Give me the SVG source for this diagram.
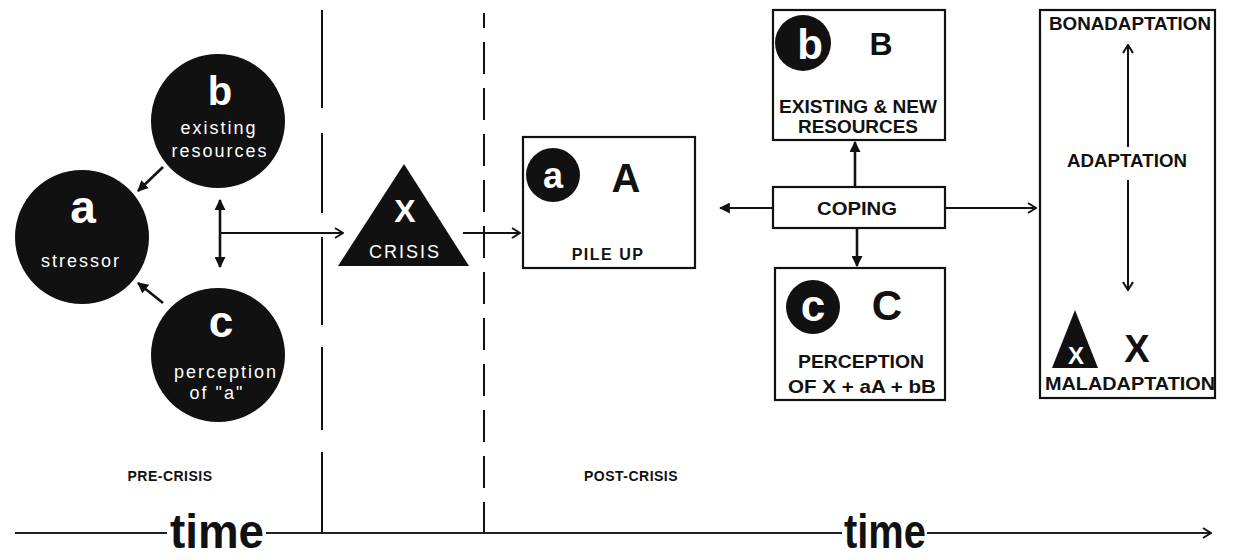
<svg xmlns="http://www.w3.org/2000/svg" width="1239" height="560" viewBox="0 0 1239 560">
<style>
.dk{fill:#111}
.box{fill:#fff;stroke:#111;stroke-width:2.2}
.b{font-family:"Liberation Sans",Arial,Helvetica,sans-serif;font-weight:bold;fill:#111;text-anchor:middle}
.w{fill:#fff}
.s{font-family:"Liberation Sans",Arial,Helvetica,sans-serif;font-size:18px;fill:#fff;text-anchor:middle;letter-spacing:2px}
.conn{stroke:#111;stroke-width:2.6;fill:none}
.thin{stroke:#111;stroke-width:2;fill:none}
.axis{stroke:#222;stroke-width:1.8;fill:none}
</style>
<defs>
<marker id="solid" viewBox="0 0 10 10" refX="9" refY="5" markerWidth="11" markerHeight="11" markerUnits="userSpaceOnUse" orient="auto-start-reverse"><path d="M0,0 L10,5 L0,10 z" fill="#111"/></marker>
<marker id="open" viewBox="0 0 10 12" refX="9" refY="6" markerWidth="10" markerHeight="12" markerUnits="userSpaceOnUse" orient="auto-start-reverse"><path d="M1,1 L9,6 L1,11" fill="none" stroke="#111" stroke-width="2"/></marker>
</defs>
<rect width="1239" height="560" fill="#fff"/>

<g id="timeline">
<path class="thin" d="M322,10 V108 M322,133 V213 M322,237 V325 M322,347 V430 M322,452 V533"/>
<line class="thin" x1="484" y1="13" x2="484" y2="533" stroke-dasharray="32 14" stroke-dashoffset="17"/>
<path class="axis" d="M15,533 H167 M266,533 H842 M927,533 H1211" marker-end="url(#open)"/>
<text class="b" x="170" y="548" font-size="49" style="text-anchor:start" textLength="94" lengthAdjust="spacingAndGlyphs">time</text>
<text class="b" x="844" y="548" font-size="49" style="text-anchor:start" textLength="82" lengthAdjust="spacingAndGlyphs">time</text>
<text class="b" x="170" y="481" font-size="14" letter-spacing="0.5">PRE-CRISIS</text>
<text class="b" x="631" y="481" font-size="14" letter-spacing="0.5">POST-CRISIS</text>
</g>

<g id="node-b">
<circle class="dk" cx="218" cy="121" r="67"/>
<text class="b w" x="220" y="105" font-size="40">b</text>
<text class="s" x="219" y="134">existing</text>
<text class="s" x="220" y="157">resources</text>
</g>

<g id="node-a">
<circle class="dk" cx="82" cy="237" r="67"/>
<text class="b w" x="83" y="223" font-size="46">a</text>
<text class="s" x="81" y="267">stressor</text>
</g>

<g id="node-c">
<circle class="dk" cx="218" cy="355" r="67"/>
<text class="b w" x="221" y="337" font-size="44">c</text>
<text class="s" x="226" y="378">perception</text>
<text class="s" x="217" y="399">of "a"</text>
</g>

<g id="node-crisis">
<polygon class="dk" points="404,164 338,266 469,266"/>
<text class="b w" x="405" y="222" font-size="32">X</text>
<text class="s" x="405" y="258" letter-spacing="1">CRISIS</text>
</g>

<g id="node-pileup">
<rect class="box" x="523" y="137" width="172" height="131"/>
<circle class="dk" cx="553" cy="175" r="27"/>
<text class="b w" x="553" y="188" font-size="36">a</text>
<text class="b" x="626" y="192" font-size="40">A</text>
<text class="b" x="608" y="260" font-size="16" letter-spacing="1.5">PILE UP</text>
</g>

<g id="node-resources">
<rect class="box" x="773" y="10" width="172" height="130"/>
<circle class="dk" cx="803" cy="43" r="28"/>
<text class="b w" x="810" y="59" font-size="42">b</text>
<text class="b" x="881" y="55" font-size="32">B</text>
<text class="b" x="858" y="113" font-size="18" textLength="158" lengthAdjust="spacingAndGlyphs">EXISTING &amp; NEW</text>
<text class="b" x="858" y="133" font-size="18" textLength="120" lengthAdjust="spacingAndGlyphs">RESOURCES</text>
</g>

<g id="node-coping">
<rect class="box" x="773" y="187" width="172" height="41"/>
<text class="b" x="857" y="215" font-size="18" textLength="80" lengthAdjust="spacingAndGlyphs">COPING</text>
</g>

<g id="node-perception">
<rect class="box" x="775" y="268" width="170" height="132"/>
<circle class="dk" cx="813" cy="307" r="27"/>
<text class="b w" x="813" y="321" font-size="44">c</text>
<text class="b" x="887" y="320" font-size="42">C</text>
<text class="b" x="861" y="368" font-size="19" textLength="126" lengthAdjust="spacingAndGlyphs">PERCEPTION</text>
<text class="b" x="862" y="393" font-size="19" textLength="148" lengthAdjust="spacingAndGlyphs">OF X + aA + bB</text>
</g>

<g id="node-adaptation">
<rect class="box" x="1040" y="10" width="175" height="388"/>
<text class="b" x="1130" y="30" font-size="18" textLength="162" lengthAdjust="spacingAndGlyphs">BONADAPTATION</text>
<text class="b" x="1127" y="167" font-size="18" textLength="120" lengthAdjust="spacingAndGlyphs">ADAPTATION</text>
<polygon class="dk" points="1075,310 1052,368 1098,368"/>
<text class="b w" x="1076" y="364" font-size="24">X</text>
<text class="b" x="1137" y="362" font-size="38">X</text>
<text class="b" x="1130" y="390" font-size="18" textLength="170" lengthAdjust="spacingAndGlyphs">MALADAPTATION</text>
</g>

<g id="connectors">
<line class="conn" x1="163" y1="167" x2="138" y2="191" marker-end="url(#solid)"/>
<line class="conn" x1="163" y1="303" x2="138" y2="283" marker-end="url(#solid)"/>
<line class="conn" x1="220" y1="267" x2="220" y2="200" marker-start="url(#solid)" marker-end="url(#solid)"/>
<line class="thin" x1="220" y1="233" x2="343" y2="233" marker-end="url(#open)"/>
<line class="thin" x1="463" y1="233" x2="520" y2="233" marker-end="url(#open)"/>
<line class="conn" x1="855" y1="187" x2="855" y2="142" marker-end="url(#solid)"/>
<line class="conn" x1="857" y1="228" x2="857" y2="266" marker-end="url(#solid)"/>
<line class="thin" x1="773" y1="208" x2="720" y2="208" marker-end="url(#solid)"/>
<line class="thin" x1="945" y1="208" x2="1036" y2="208" marker-end="url(#open)"/>
<line class="thin" x1="1128" y1="147" x2="1128" y2="45" marker-end="url(#open)"/>
<line class="thin" x1="1128" y1="180" x2="1128" y2="290" marker-end="url(#open)"/>
</g>
</svg>
